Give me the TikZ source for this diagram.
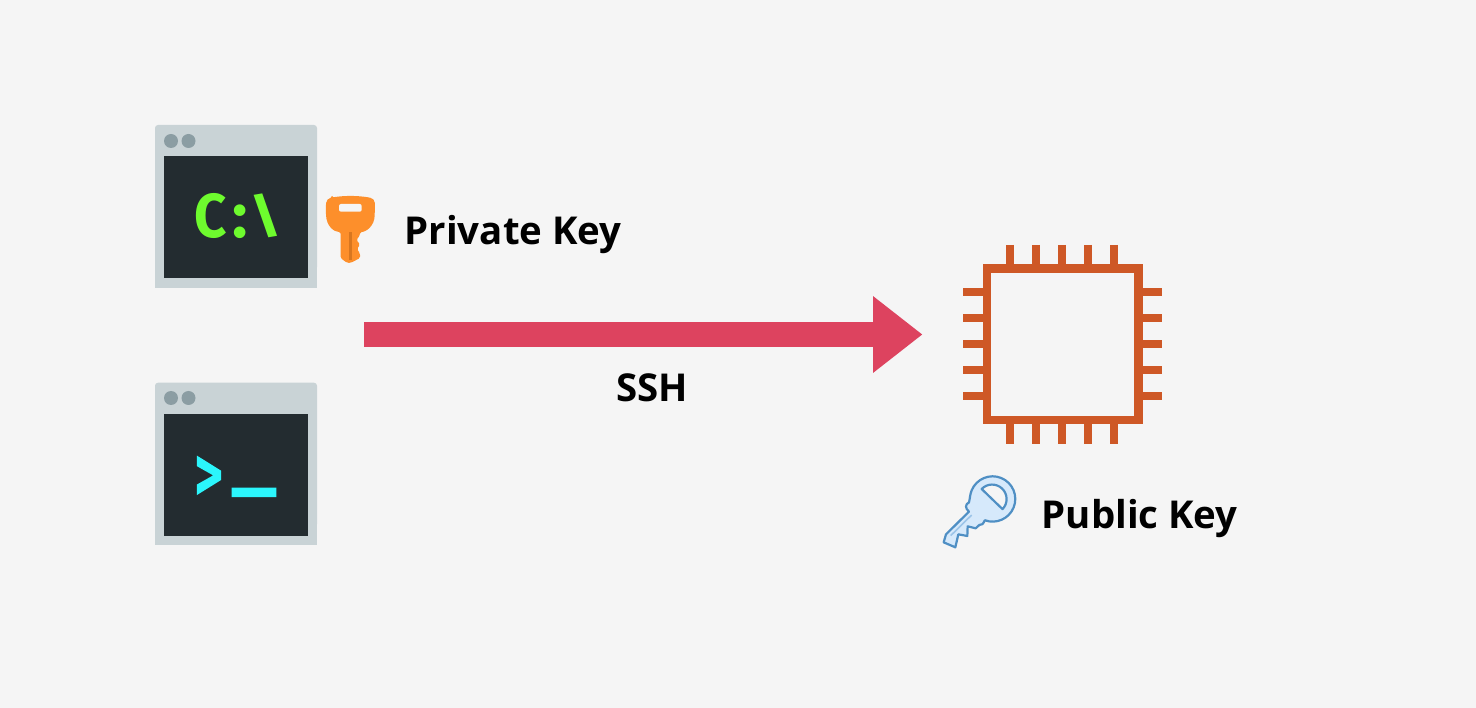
\documentclass[tikz,border=0pt]{standalone}
\usepackage{fontspec}
\setmainfont{Open Sans}
\newfontfamily\shellfont[BoldFeatures={FakeBold=2.5}]{DejaVu Sans Mono}
\newfontfamily\firafont{Fira Sans}
\usetikzlibrary{arrows.meta}
\definecolor{bgc}{HTML}{F5F5F5}
\definecolor{framec}{HTML}{C9D3D6}
\definecolor{dotc}{HTML}{8B9DA3}
\definecolor{screenc}{HTML}{232C30}
\definecolor{greenc}{HTML}{6EFB2E}
\definecolor{cyanc}{HTML}{2BF6FC}
\definecolor{chipc}{HTML}{CE5826}
\definecolor{orangec}{HTML}{FD8F2B}
\definecolor{orangedk}{HTML}{D8761F}
\definecolor{arrowc}{HTML}{DD435F}
\definecolor{keyfill}{HTML}{D6E9FB}
\definecolor{keyline}{HTML}{4F8FC4}
\definecolor{keyinner}{HTML}{9CC4E8}
\tikzset{
  screenbox/.style={fill=screenc,draw=none,inner sep=0pt,minimum width=144.5pt,minimum height=122pt},
  dotnode/.style={circle,fill=dotc,draw=none,inner sep=0pt,minimum size=14pt},
  label/.style={font=\bfseries\fontsize{38.4}{38.4}\selectfont,text=black,anchor=base west,inner sep=0pt},
  termtext/.style={font=\firafont\bfseries\fontsize{64}{64}\selectfont,inner sep=0pt,anchor=base,text=greenc},
  shelltext/.style={font=\shellfont\bfseries\fontsize{62}{62}\selectfont,inner sep=0pt,anchor=base,text=cyanc},
  chipline/.style={draw=chipc,line width=8.3pt},
}
\begin{document}
\begin{tikzpicture}[x=1pt,y=-1pt]
\useasboundingbox (0,0) rectangle (1476,708);
\fill[bgc] (0,0) rectangle (1476,708);
% window 1
\fill[framec,rounded corners=3pt] (155,270) -- (155,125) -- (317,125) -- (317,270) -- cycle;
\fill[framec] (155,260) rectangle (317,288);
\node[screenbox] (screenA) at (236.2,217.2) {};
\node[dotnode] (dotA1) at (171,141) {};
\node[dotnode] (dotA2) at (188.5,141) {};
\node[termtext,xscale=0.88,yscale=0.97] (promptA) at (211,237.5) {C};
\node[termtext] (promptB) at (240.5,237.5) {:};
\node[termtext,xscale=0.98,yscale=0.74] (promptC) at (266,233) {\textbackslash};
% window 2
\fill[framec,rounded corners=3pt] (155,527) -- (155,382.7) -- (317,382.7) -- (317,527) -- cycle;
\fill[framec] (155,517) rectangle (317,544.7);
\node[screenbox] (screenB) at (236.2,474.8) {};
\node[dotnode] (dotB1) at (171,398) {};
\node[dotnode] (dotB2) at (188.5,398) {};
\node[shelltext,xscale=0.72,yscale=1.14] (shellA) at (209,497.5) {>};
\node[shelltext,xscale=1.15,yscale=1.3] (shellB) at (254,477) {\_};
% orange key
\fill[orangec,rounded corners=1.5pt]
  (332,197.5) .. controls (344,195.5) and (357,195.5) .. (369,197.5)
  .. controls (376,199) and (375,205) .. (374.7,214)
  .. controls (374.5,226) and (366,232) .. (360,232)
  -- (360,235) -- (356.5,240) -- (360,244.5) -- (357,249) -- (360,253.5) -- (360,258)
  -- (351,262.8) -- (347,262.8) -- (340.5,258) -- (340.5,232)
  .. controls (334,232) and (326.5,226) .. (326,214)
  .. controls (325.5,205) and (325.5,199) .. (332,197.5) -- cycle;
\fill[bgc,rounded corners=2pt] (339,204) rectangle (361.7,211.7);
\fill[orangedk] (348.7,232) rectangle (352.3,260);
% arrow
\coordinate (sshstart) at (364,334.5);
\coordinate (sshend) at (922.5,334.5);
\draw[arrowc,line width=25pt,-{Triangle[length=49.5pt,width=73.5pt]}] (sshstart) -- (sshend);
% chip
\draw[chipline] (987,268.4) rectangle (1138.5,420.2);
\foreach \p in {1009.7,1035.7,1061.7,1087.7,1113.7}{
  \draw[chipline] (\p,245) -- (\p,265);
  \draw[chipline] (\p,424) -- (\p,444);
}
\foreach \p in {292.3,318.3,344.3,370.3,396.3}{
  \draw[chipline] (963.3,\p) -- (984,\p);
  \draw[chipline] (1142,\p) -- (1162,\p);
}
% public key
\begin{scope}[shift={(930,465)},x=0.3333pt,y=-0.3333pt]
  \filldraw[fill=keyfill,draw=keyline,line width=2.2pt,line join=round]
    (125,76) arc[start angle=202.4,end angle=470,radius=68]
    .. controls (160,175) and (155,183) .. (148,180)
    -- (137,190) -- (113,184) -- (112,213) -- (85,208) -- (76,247) -- (41,232)
    -- (48,208) -- (117,140)
    .. controls (105,130) and (105,118) .. (117,112)
    .. controls (120,100) and (120,88) .. (125,76) -- cycle;
  \filldraw[fill=bgc,draw=keyline,line width=2.2pt,line join=round]
    (155,72) arc[start angle=224,end angle=404,radius=43.5] -- cycle;
  \draw[keyinner,line width=1.6pt] (62,212) -- (125,150);
\end{scope}
% labels
\node[label] (privatekey) at (404.5,245) {Private Key};
\node[label] (ssh) at (616,402) {SSH};
\node[label] (publickey) at (1041.5,528) {Public Key};
\end{tikzpicture}
\end{document}
